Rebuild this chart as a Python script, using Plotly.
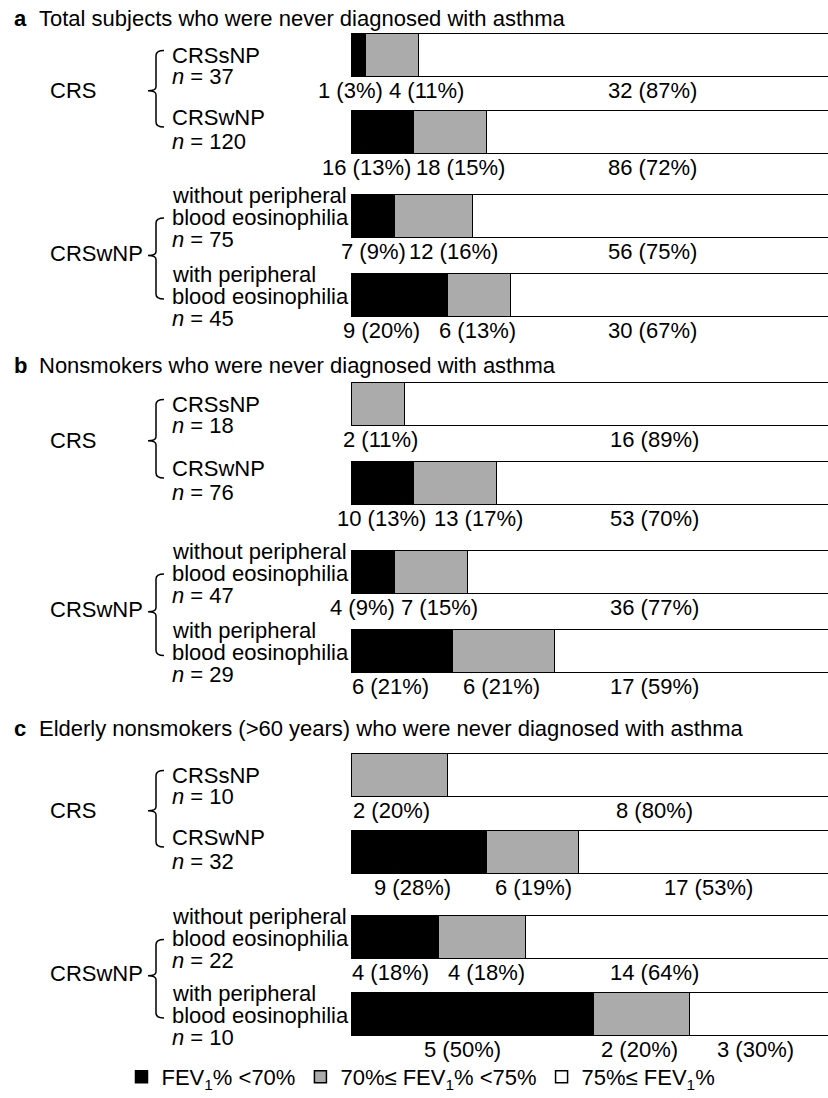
import plotly.graph_objects as go

# ---------------- data ----------------
PANEL_LETTERS = ["a", "b", "c"]
PANEL_TITLES = [
    "Total subjects who were never diagnosed with asthma",
    "Nonsmokers who were never diagnosed with asthma",
    "Elderly nonsmokers (>60 years) who were never diagnosed with asthma",
]
GROUP_NAMES = ["CRS", "CRSwNP"]
ROW_NAMES = [
    ["CRSsNP"],
    ["CRSwNP"],
    ["without peripheral", "blood eosinophilia"],
    ["with peripheral", "blood eosinophilia"],
]
N_SUBJECTS = [[37, 120, 75, 45], [18, 76, 47, 29], [10, 32, 22, 10]]

# subjects per FEV1% class (counts and the percentages printed under the bars)
COUNT_LOW = [[1, 16, 7, 9], [0, 10, 4, 6], [0, 9, 4, 5]]
COUNT_MID = [[4, 18, 12, 6], [2, 13, 7, 6], [2, 6, 4, 2]]
COUNT_HIGH = [[32, 86, 56, 30], [16, 53, 36, 17], [8, 17, 14, 3]]
PCT_LOW = [[3, 13, 9, 20], [0, 13, 9, 21], [0, 28, 18, 50]]
PCT_MID = [[11, 15, 16, 13], [11, 17, 15, 21], [20, 19, 18, 20]]
PCT_HIGH = [[87, 72, 75, 67], [89, 70, 77, 59], [80, 53, 64, 30]]

SERIES_NAMES = [
    "FEV<sub>1</sub>% &lt;70%",
    "70%≤ FEV<sub>1</sub>% &lt;75%",
    "75%≤ FEV<sub>1</sub>%",
]
SERIES_COLORS = ["#000000", "#ababab", "#ffffff"]

# ---------------- layout ----------------
W, H = 828, 1098
FONT = "Liberation Sans, Arial, Helvetica, sans-serif"
FS = 22
BAR_X0_PX = 351.5          # pixel where 0 % sits
PX_PER_PCT = 4.84          # pixels per percentage point
BAR_HEIGHT = 43

PANEL_TITLE_Y = [18, 365, 728]
ROW_CENTER_Y = [
    [55.5, 132, 216, 295],
    [404.5, 483, 572, 651.5],
    [775.5, 852, 937.5, 1014],
]
# vertical offsets of the text lines next to each bar
ROW_LINE_OFFSETS = [[0, 20.5], [-15, 9], [-21, 1, 23], [-21, 1, 23]]
VALUE_LABEL_DY = 13.5

# horizontal centres (in % units) of the value labels below each bar
VALUE_LABEL_X = [
    [[-0.2, 15.4, 62.1], [3.0, 22.6, 62.1], [4.6, 21.0, 62.1], [6.1, 26.1, 62.1]],
    [[None, 5.9, 62.5], [6.1, 26.3, 62.5], [2.2, 18.1, 62.5], [8.0, 30.9, 62.5]],
    [[None, 8.2, 62.5], [12.5, 37.5, 73.7], [8.0, 27.8, 62.5], [23.0, 59.4, 83.4]],
]

LETTER_X, TITLE_X = 12, 37
GROUP_X, ROW_X = 48, 170
BRACE_X, BRACE_TIP_X, BRACE_HOOK_X = 156, 148, 164
# brace extents relative to the bar centres of its two rows: (top, bottom, tip)
BRACE_DY = [(-5, -5, -3), (2, 4, 0)]
GROUP_LABEL_DY = [0, -2]


def px(x):
    return x / W


# bars
ys = [y for panel in ROW_CENTER_Y for y in panel]
series_pct = [PCT_LOW, PCT_MID, PCT_HIGH]
series_cnt = [COUNT_LOW, COUNT_MID, COUNT_HIGH]

fig = go.Figure()
for name, color, pct in zip(SERIES_NAMES, SERIES_COLORS, series_pct):
    fig.add_trace(go.Bar(
        x=[v for panel in pct for v in panel],
        y=ys,
        orientation="h",
        width=BAR_HEIGHT,
        name=name,
        marker=dict(color=color, line=dict(color="#000000", width=1.5)),
        hoverinfo="skip",
    ))

annotations = []
shapes = []


def text(x, y, s, xref="paper", xanchor="left", size=FS):
    annotations.append(dict(
        x=x, y=y, xref=xref, yref="y", text=s, showarrow=False,
        xanchor=xanchor, yanchor="middle",
        font=dict(family=FONT, size=size, color="#000000"),
    ))


for p in range(3):
    rows = ROW_CENTER_Y[p]
    # panel heading
    text(px(LETTER_X), PANEL_TITLE_Y[p], "<b>%s</b>" % PANEL_LETTERS[p])
    text(px(TITLE_X), PANEL_TITLE_Y[p], PANEL_TITLES[p])

    # row captions
    for r in range(4):
        lines = ROW_NAMES[r] + ["<i>n</i> = %d" % N_SUBJECTS[p][r]]
        for line, dy in zip(lines, ROW_LINE_OFFSETS[r]):
            text(px(ROW_X), rows[r] + dy, line)

    # group captions with braces
    for g in range(2):
        r0, r1 = 2 * g, 2 * g + 1
        dtop, dbot, dtip = BRACE_DY[g]
        top = rows[r0] + dtop
        bottom = rows[r1] + dbot
        tip = (rows[r0] + rows[r1]) / 2 + dtip
        text(px(GROUP_X), tip + GROUP_LABEL_DY[g], GROUP_NAMES[g])
        xb, xt, xh = px(BRACE_X), px(BRACE_TIP_X), px(BRACE_HOOK_X)
        path = (
            f"M{xh},{top} Q{xb},{top} {xb},{top + 5} "
            f"L{xb},{tip - 4} Q{xb},{tip} {xt},{tip} "
            f"Q{xb},{tip} {xb},{tip + 4} "
            f"L{xb},{bottom - 5} Q{xb},{bottom} {xh},{bottom}"
        )
        shapes.append(dict(type="path", path=path, xref="paper", yref="y",
                           line=dict(color="#000000", width=1.5)))

    # value labels under the bars
    for r in range(4):
        bar_bottom = rows[r] + BAR_HEIGHT / 2
        for s in range(3):
            cnt = series_cnt[s][p][r]
            if cnt == 0:
                continue
            lab = "%d (%d%%)" % (cnt, series_pct[s][p][r])
            text(VALUE_LABEL_X[p][r][s], bar_bottom + VALUE_LABEL_DY, lab,
                 xref="x", xanchor="center")

fig.update_layout(
    width=W, height=H,
    margin=dict(l=0, r=0, t=0, b=0),
    paper_bgcolor="#ffffff", plot_bgcolor="#ffffff",
    barmode="stack",
    bargap=0,
    showlegend=True,
    legend=dict(
        orientation="h", x=px(421), xanchor="center",
        y=1 - 1077 / H, yanchor="middle",
        traceorder="normal",
        font=dict(family=FONT, size=FS, color="#000000"),
        bgcolor="rgba(0,0,0,0)", itemclick=False, itemdoubleclick=False,
    ),
    xaxis=dict(
        range=[(0 - BAR_X0_PX) / PX_PER_PCT, (W - BAR_X0_PX) / PX_PER_PCT],
        visible=False, fixedrange=True,
    ),
    yaxis=dict(range=[H, 0], visible=False, fixedrange=True),
    annotations=annotations,
    shapes=shapes,
    font=dict(family=FONT, size=FS, color="#000000"),
)

fig.write_html("out.html")
